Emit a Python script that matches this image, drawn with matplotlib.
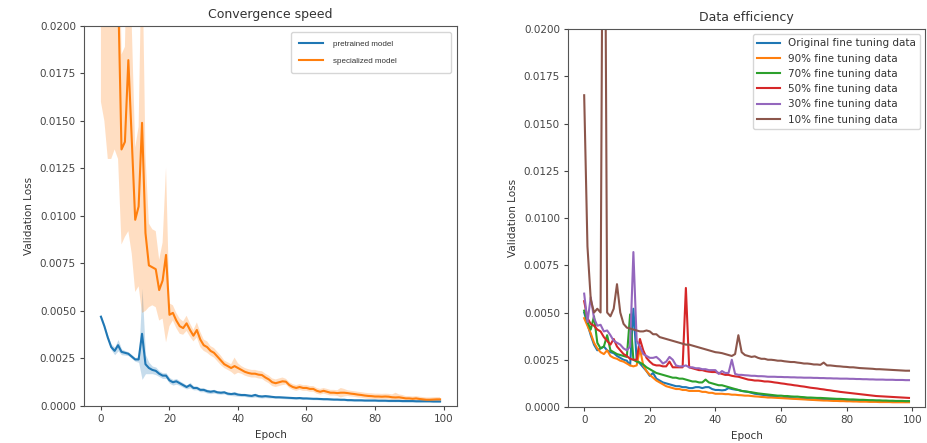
import matplotlib
matplotlib.use("Agg")
import matplotlib.pyplot as plt
import numpy as np
from matplotlib.ticker import FormatStrFormatter

# all loss values below are in units of 1e-4
SCALE = 1e-4
epochs = np.arange(100)

# --- Convergence speed (mean curve + confidence half-width) ---
pretrained_mean = [
    47, 42, 36, 31, 29, 32, 28.5, 28, 27.5, 26,
    24.5, 24.5, 38, 22, 20, 19, 18.5, 17, 16, 16,
    13.5, 12.5, 13, 12, 11, 10, 11, 9.5, 9.5, 8.5,
    8.5, 7.8, 7.5, 7.8, 7.2, 7, 7.2, 6.5, 6.3, 6.5,
    6, 5.8, 5.8, 5.5, 5.3, 5.8, 5.2, 5, 5.2, 5,
    4.8, 4.6, 4.6, 4.5, 4.4, 4.3, 4.2, 4.1, 4.2, 4.0,
    4.0, 3.9, 3.8, 3.8, 3.7, 3.6, 3.6, 3.5, 3.4, 3.4,
    3.3, 3.3, 3.1, 3.1, 3.0, 3.0, 3.0, 2.9, 2.9, 2.9,
    2.9, 2.8, 2.8, 2.8, 2.7, 2.7, 2.7, 2.7, 2.6, 2.6,
    2.6, 2.6, 2.5, 2.5, 2.5, 2.5, 2.5, 2.4, 2.4, 2.4,
]
pretrained_ci = [
    1, 1, 1.2, 1.5, 2, 3, 1.5, 1.2, 1, 1,
    1, 1.5, 24, 5, 3, 2, 2, 1.5, 1.5, 1.5,
    1.5, 1.5, 1.5, 1.2, 1.2, 1, 1.5, 1, 1, 1,
    1, 1, 1, 1, 0.8, 0.8, 0.8, 0.8, 0.8, 1.2,
    0.8, 0.8, 0.8, 0.8, 0.8, 1, 0.8, 0.8, 0.8, 0.8,
    0.6, 0.6, 0.6, 0.6, 0.6, 0.6, 0.6, 0.6, 0.6, 0.6,
    0.5, 0.5, 0.5, 0.5, 0.5, 0.5, 0.5, 0.5, 0.5, 0.5,
    0.5, 0.5, 0.5, 0.5, 0.5, 0.5, 0.5, 0.5, 0.5, 0.5,
    0.5, 0.5, 0.5, 0.5, 0.5, 0.5, 0.5, 0.5, 0.5, 0.5,
    0.5, 0.5, 0.5, 0.5, 0.5, 0.5, 0.5, 0.5, 0.5, 0.5,
]
specialized_mean = [
    290, 270, 255, 245, 235, 220, 135, 139, 182, 140,
    98, 105, 149, 91, 74, 73, 72, 61, 66, 79.5,
    48, 49, 45, 42, 41, 43.5, 40, 37, 40, 35,
    32, 31, 29, 28, 26, 24, 22, 21, 20, 21,
    20, 19, 18, 17.4, 17, 17, 16.5, 16.3, 15, 14,
    12.5, 12, 12.5, 13, 12.8, 11, 10, 9.5, 10, 9.5,
    9.5, 9, 9, 8, 7.5, 8, 7.5, 7, 7, 6.8,
    7, 7, 6.8, 6.5, 6.3, 6, 5.8, 5.5, 5.3, 5.2,
    5, 5, 4.9, 5, 4.9, 4.6, 4.5, 4.6, 4.3, 4,
    4, 3.8, 4, 3.7, 3.5, 3.3, 3.3, 3.4, 3.5, 3.5,
]
specialized_ci = [
    130, 120, 125, 115, 100, 90, 50, 50, 90, 60,
    38, 42, 100, 41, 22, 20, 20, 16, 20, 46,
    6, 4, 4, 4, 3.5, 4, 3.5, 3, 4, 4,
    3, 3, 2.5, 2.5, 2.5, 2.5, 2, 2, 2, 4.5,
    2.5, 2, 2, 2, 2, 2, 2, 2, 2, 2,
    2, 2, 2, 2, 1.5, 1.5, 1.5, 1.5, 1.5, 1.5,
    1.5, 1.5, 1.5, 1.5, 1.5, 1.5, 1.5, 1.5, 1.5, 1.5,
    2.5, 2, 1.5, 1.5, 1.5, 1.5, 1.5, 1.5, 1.5, 1.5,
    1.5, 1.5, 1.5, 1.5, 1.5, 1.5, 2.5, 1.5, 1.5, 1.2,
    1.2, 1.2, 1.2, 1.2, 1.2, 1.2, 1.2, 1.2, 1.2, 1.2,
]

# --- Data efficiency ---
original_data = [
    50, 44, 38, 33, 30, 31, 32, 30, 29, 28.5,
    27, 26, 25, 24.5, 22, 52, 25, 23, 21, 19,
    16.5, 18, 15, 14, 13, 12.5, 12, 11.5, 11, 11,
    10.5, 10.5, 10, 10, 10.5, 10.5, 10, 10.5, 10.5, 9.5,
    9, 9, 8.8, 9, 10, 9.5, 9.2, 9, 8.5, 8.2,
    8, 7.5, 7, 6.8, 6.5, 6.3, 6, 5.8, 5.5, 5.2,
    5, 4.9, 4.8, 4.7, 4.6, 4.5, 4.4, 4.3, 4.2, 4.1,
    4, 3.9, 3.9, 3.8, 3.8, 3.7, 3.7, 3.6, 3.6, 3.5,
    3.5, 3.5, 3.4, 3.4, 3.4, 3.3, 3.3, 3.3, 3.2, 3.2,
    3.2, 3.1, 3.1, 3.1, 3.0, 3.0, 3.0, 3.0, 3.0, 3.0,
]
data_90 = [
    47, 43, 39, 34, 31, 29, 28, 30, 27, 26,
    25.5, 24.5, 24, 23, 22, 21.5, 22, 31, 22, 19,
    17, 15.5, 14, 13, 12, 11, 10.5, 10, 9.5, 9.5,
    9, 9, 8.5, 8.5, 8.5, 8.5, 8, 8, 7.5, 7.5,
    7, 7, 7, 6.8, 6.8, 6.5, 6.5, 6.3, 6.2, 6,
    6, 5.8, 5.6, 5.5, 5.3, 5.2, 5, 5, 4.9, 4.8,
    4.7, 4.6, 4.5, 4.4, 4.3, 4.2, 4.1, 4, 3.9, 3.8,
    3.7, 3.6, 3.5, 3.4, 3.4, 3.3, 3.2, 3.2, 3.1, 3.1,
    3, 3, 2.9, 2.9, 2.8, 2.8, 2.8, 2.7, 2.7, 2.7,
    2.6, 2.6, 2.6, 2.6, 2.5, 2.5, 2.5, 2.5, 2.5, 2.5,
]
data_70 = [
    51, 45, 41, 48, 34, 31, 32, 38, 30, 29,
    28, 27.5, 27, 26.5, 49, 25, 24, 23.5, 22.5, 21,
    20, 19, 18, 17.5, 17, 16.5, 16, 15.5, 15.5, 15,
    15, 14.5, 14, 13.5, 13.5, 13, 13, 14.5, 13, 12.5,
    12, 11.5, 11.5, 11, 10.5, 10, 9.5, 9, 8.5, 8.3,
    8, 7.8, 7.5, 7.2, 7, 6.8, 6.6, 6.4, 6.2, 6,
    6, 5.8, 5.8, 5.6, 5.5, 5.5, 5.3, 5.2, 5, 5,
    4.9, 4.8, 4.8, 4.7, 4.6, 4.5, 4.4, 4.3, 4.3, 4.2,
    4.1, 4, 4, 3.9, 3.8, 3.8, 3.7, 3.6, 3.6, 3.5,
    3.5, 3.4, 3.4, 3.3, 3.3, 3.2, 3.2, 3.2, 3.1, 3.1,
]
data_50 = [
    56, 47, 44, 43, 41, 40, 37, 35, 33, 36,
    32, 30, 28, 27, 25.5, 25, 25, 36, 30, 26,
    24, 22.5, 22, 22, 21.5, 21.5, 24, 21, 21, 21,
    21, 63, 21, 20.5, 20, 19.5, 19.5, 19, 18.7, 18.5,
    18.5, 18, 17.5, 17, 17, 16.5, 16.2, 16, 15.5, 15,
    14.5, 14.3, 14, 14, 13.8, 13.5, 13.5, 13.3, 13, 12.8,
    12.5, 12.3, 12, 11.8, 11.5, 11.3, 11, 10.8, 10.5, 10.2,
    10, 9.8, 9.5, 9.3, 9, 8.8, 8.5, 8.3, 8, 7.8,
    7.6, 7.4, 7.2, 7, 6.8, 6.6, 6.4, 6.2, 6, 5.8,
    5.7, 5.6, 5.5, 5.4, 5.3, 5.2, 5.1, 5, 4.9, 4.8,
]
data_30 = [
    60, 45, 58, 47, 43, 43.5, 40, 40.5, 38, 35,
    34, 33, 31, 30, 32, 82, 35, 32, 28, 27,
    26, 26, 26.5, 25, 23, 24, 26.5, 25, 22, 21.5,
    21.5, 22, 21, 21, 20.5, 20.5, 20, 20, 19.5, 19.5,
    19.5, 17.5, 19, 18, 18, 25, 17.5, 17, 17, 16.8,
    16.7, 16.5, 16.5, 16.3, 16.3, 16.2, 16, 16, 16, 15.9,
    15.9, 15.8, 15.8, 15.7, 15.7, 15.6, 15.6, 15.5, 15.5, 15.5,
    15.4, 15.4, 15.3, 15.3, 15.2, 15.2, 15.1, 15.1, 15, 15,
    15, 14.9, 14.9, 14.8, 14.8, 14.7, 14.7, 14.6, 14.6, 14.5,
    14.5, 14.5, 14.4, 14.4, 14.4, 14.3, 14.3, 14.3, 14.2, 14.2,
]
data_10 = [
    165, 85, 57, 50, 52, 50, 400, 50, 48, 52,
    65, 50, 44, 42, 41.5, 41, 40.5, 40, 40, 40.5,
    40, 38.5, 38.5, 37, 36.5, 36, 35.5, 35, 34.5, 34,
    33.5, 33, 33, 32.5, 32, 31.5, 31, 30.5, 30, 29.5,
    29, 28.8, 28.5, 28, 27.5, 27, 28, 38, 29, 27.5,
    27, 26.5, 26.8, 26, 25.5, 25.5, 25, 25, 24.8, 24.5,
    24.5, 24.2, 24, 23.8, 23.8, 23.5, 23.3, 23, 23, 22.8,
    22.5, 22.5, 22.3, 23.5, 22, 22, 21.8, 21.6, 21.5, 21.3,
    21.2, 21, 21, 20.8, 20.6, 20.5, 20.4, 20.3, 20.2, 20,
    20, 19.9, 19.8, 19.7, 19.6, 19.5, 19.4, 19.3, 19.2, 19.2,
]
efficiency_series = [original_data, data_90, data_70, data_50, data_30, data_10]
efficiency_labels = ["Original fine tuning data", "90% fine tuning data",
                     "70% fine tuning data", "50% fine tuning data",
                     "30% fine tuning data", "10% fine tuning data"]

yticks = [0, 0.0025, 0.005, 0.0075, 0.01, 0.0125, 0.015, 0.0175, 0.02]

plt.rcParams['font.size'] = 7.5
plt.rcParams['text.color'] = '#333333'
plt.rcParams['axes.labelcolor'] = '#333333'
plt.rcParams['xtick.color'] = '#444444'
plt.rcParams['ytick.color'] = '#444444'
plt.rcParams['axes.edgecolor'] = '#555555'
plt.rcParams['xtick.major.size'] = 3
plt.rcParams['ytick.major.size'] = 3
plt.rcParams['xtick.major.pad'] = 2.8
plt.rcParams['ytick.major.pad'] = 2.8

fig = plt.figure(figsize=(9.28, 4.43), dpi=100)
ax1 = fig.add_axes([0.0905, 0.0835, 0.402, 0.858])
ax2 = fig.add_axes([0.612, 0.0813, 0.385, 0.853])

# Left: convergence speed with confidence bands
for mean, ci, color, label in [(pretrained_mean, pretrained_ci, 'tab:blue', 'pretrained model'),
                               (specialized_mean, specialized_ci, 'tab:orange', 'specialized model')]:
    m = np.array(mean) * SCALE
    c = np.array(ci) * SCALE
    ax1.fill_between(epochs, m - c, m + c, color=color, alpha=0.25, linewidth=0)
    ax1.plot(epochs, m, color=color, linewidth=1.5, label=label)

ax1.set_ylim(0, 0.02)
ax1.set_yticks(yticks)
ax1.yaxis.set_major_formatter(FormatStrFormatter('%.4f'))
ax1.set_xticks([0, 20, 40, 60, 80, 100])
ax1.set_title("Convergence speed", fontsize=9)
ax1.set_xlabel("Epoch")
ax1.set_ylabel("Validation Loss")
# wide legend box with text left-aligned, as in the original
ax1.legend(loc='upper left', bbox_to_anchor=(0.555, 0.0, 0.429, 0.984), mode='expand',
           borderaxespad=0, prop={'family': 'Liberation Sans', 'size': 5.8},
           labelspacing=1.2, handlelength=3.0, handletextpad=1.2, borderpad=1.0)

# Right: data efficiency
for series, label in zip(efficiency_series, efficiency_labels):
    ax2.plot(epochs, np.array(series) * SCALE, linewidth=1.5, label=label)

ax2.set_ylim(0, 0.02)
ax2.set_yticks(yticks)
ax2.yaxis.set_major_formatter(FormatStrFormatter('%.4f'))
ax2.set_xticks([0, 20, 40, 60, 80, 100])
ax2.set_title("Data efficiency", fontsize=9)
ax2.set_xlabel("Epoch")
ax2.set_ylabel("Validation Loss")
ax2.legend(loc='upper right', fontsize=7.5, handlelength=2.2)

fig.savefig("out.png", dpi=100)
